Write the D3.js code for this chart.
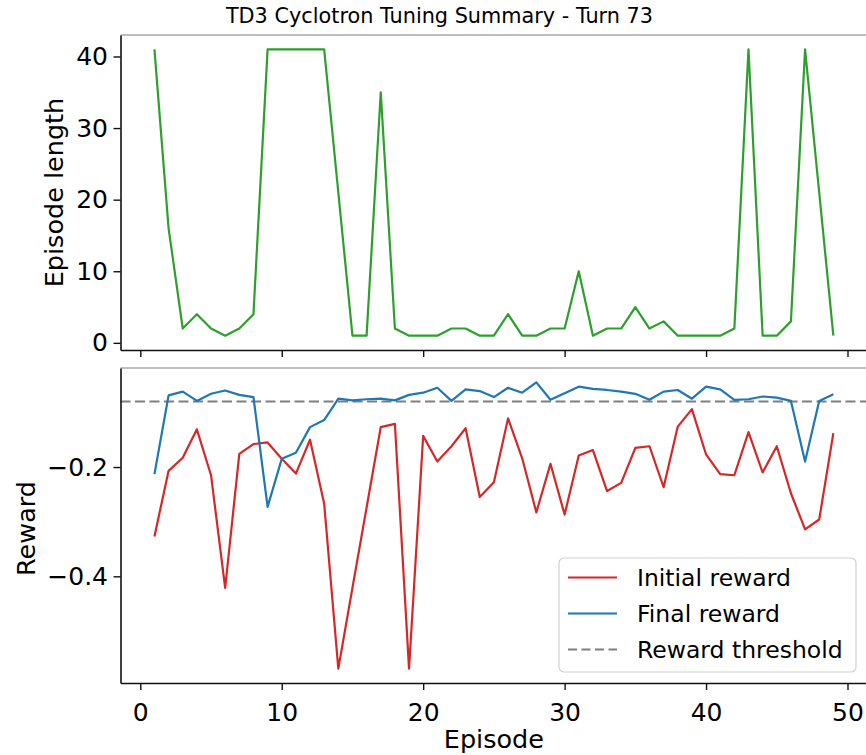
<!DOCTYPE html>
<html>
<head>
<meta charset="utf-8">
<script src="https://cdn.jsdelivr.net/npm/d3@7"></script>
<style>
  body { margin: 0; background: #fff; }
  text { font-family: "DejaVu Sans", sans-serif; fill: #000; }
</style>
</head>
<body>
<svg id="chart" width="866" height="755"></svg>
<script>
// DATA
const episodes = d3.range(1, 50);
const episodeLength = [41, 16, 2, 4, 2, 1, 2, 4, 41, 41, 41, 41, 41, 21, 1, 1, 35, 2, 1, 1,
  1, 2, 2, 1, 1, 4, 1, 1, 2, 2, 10, 1, 2, 2, 5, 2, 3, 1, 1, 1,
  1, 2, 41, 1, 1, 3, 41, 21, 1];
const initialReward = [-0.327, -0.207, -0.183, -0.131, -0.215, -0.421, -0.176, -0.158, -0.155, -0.185,
  -0.212, -0.150, -0.267, -0.569, -0.421, -0.274, -0.127, -0.121, -0.569, -0.143,
  -0.190, -0.162, -0.129, -0.255, -0.228, -0.111, -0.184, -0.283, -0.194, -0.287,
  -0.179, -0.169, -0.244, -0.229, -0.165, -0.162, -0.237, -0.126, -0.094, -0.177,
  -0.213, -0.215, -0.136, -0.210, -0.162, -0.248, -0.314, -0.296, -0.138];
const finalReward = [-0.213, -0.069, -0.062, -0.079, -0.066, -0.060, -0.068, -0.072, -0.273, -0.185,
  -0.174, -0.127, -0.114, -0.075, -0.078, -0.076, -0.075, -0.078, -0.068, -0.064,
  -0.055, -0.079, -0.058, -0.061, -0.072, -0.055, -0.064, -0.045, -0.077, -0.065,
  -0.053, -0.057, -0.059, -0.062, -0.066, -0.077, -0.062, -0.059, -0.075, -0.053,
  -0.058, -0.077, -0.076, -0.071, -0.073, -0.079, -0.190, -0.079, -0.067];
const rewardThreshold = -0.08;
const xTicks = [0, 10, 20, 30, 40, 50];
const lengthTicks = [0, 10, 20, 30, 40];
const rewardTicks = [-0.2, -0.4];
const legendItems = [
  { label: 'Initial reward', color: '#d62728', dash: null },
  { label: 'Final reward', color: '#1f77b4', dash: null },
  { label: 'Reward threshold', color: '#7f7f7f', dash: '4.5,3' }
];

// LAYOUT
const SVG = d3.select('#chart');
const LEFT = 120.5;
const RIGHT = 867.3;
const TOP_PANEL = { top: 35, bottom: 350 };
const BOTTOM_PANEL = { top: 368, bottom: 683 };
const TICK_FONT = 25;
const LABEL_FONT = 25.5;
const LINE_WIDTH = 2.2;

// matplotlib style 5% margins
function padded(extent) {
  const pad = (extent[1] - extent[0]) * 0.05;
  return [extent[0] - pad, extent[1] + pad];
}

const x = d3.scaleLinear()
  .domain(padded(d3.extent(episodes)))
  .range([LEFT, RIGHT]);

const yLength = d3.scaleLinear()
  .domain(padded(d3.extent(episodeLength)))
  .range([TOP_PANEL.bottom, TOP_PANEL.top]);

const yReward = d3.scaleLinear()
  .domain(padded(d3.extent(initialReward.concat(finalReward))))
  .range([BOTTOM_PANEL.bottom, BOTTOM_PANEL.top]);

const fmtMinus = d => d3.format('.1f')(d).replace('-', '\u2212');

// FUNCTIONS
function drawFrame(panel) {
  SVG.append('line')
    .attr('x1', LEFT).attr('x2', RIGHT)
    .attr('y1', panel.top).attr('y2', panel.top)
    .attr('stroke', '#a8a8a8').attr('stroke-width', 1.6);
  SVG.append('line')
    .attr('x1', RIGHT).attr('x2', RIGHT)
    .attr('y1', panel.top).attr('y2', panel.bottom)
    .attr('stroke', '#222').attr('stroke-width', 1.6);
}

function styleAxis(g) {
  g.select('.domain').attr('stroke', '#111').attr('stroke-width', 1.6);
  g.selectAll('.tick line').attr('stroke', '#111').attr('stroke-width', 1.4);
  g.selectAll('.tick text')
    .attr('fill', '#111')
    .style('font-family', '"DejaVu Sans", sans-serif')
    .style('font-size', `${TICK_FONT}px`);
}

function drawSeries(values, yScale, color) {
  const line = d3.line()
    .x((d, i) => x(episodes[i]))
    .y(d => yScale(d));

  SVG.append('path')
    .datum(values)
    .attr('d', line)
    .attr('fill', 'none')
    .attr('stroke', color)
    .attr('stroke-width', LINE_WIDTH)
    .attr('stroke-linejoin', 'round');
}

// TOP PANEL: episode length
drawFrame(TOP_PANEL);

SVG.append('g')
  .attr('transform', `translate(0,${TOP_PANEL.bottom})`)
  .call(d3.axisBottom(x).tickValues(xTicks).tickSize(7).tickFormat('').tickSizeOuter(0))
  .call(styleAxis);

SVG.append('g')
  .attr('transform', `translate(${LEFT},0)`)
  .call(d3.axisLeft(yLength).tickValues(lengthTicks).tickSize(7).tickPadding(5.5).tickSizeOuter(0))
  .call(styleAxis);

drawSeries(episodeLength, yLength, '#2ca02c');

SVG.append('text')
  .attr('transform', `translate(62.5,${(TOP_PANEL.top + TOP_PANEL.bottom) / 2}) rotate(-90)`)
  .attr('text-anchor', 'middle')
  .style('font-size', `${LABEL_FONT}px`)
  .text('Episode length');

// BOTTOM PANEL: rewards
drawFrame(BOTTOM_PANEL);

SVG.append('line')
  .attr('x1', LEFT).attr('x2', RIGHT)
  .attr('y1', yReward(rewardThreshold)).attr('y2', yReward(rewardThreshold))
  .attr('stroke', '#7f7f7f')
  .attr('stroke-width', 2)
  .attr('stroke-dasharray', '10,4.5');

drawSeries(initialReward, yReward, '#d62728');
drawSeries(finalReward, yReward, '#1f77b4');

SVG.append('g')
  .attr('transform', `translate(0,${BOTTOM_PANEL.bottom})`)
  .call(d3.axisBottom(x).tickValues(xTicks).tickSize(7).tickPadding(13).tickSizeOuter(0))
  .call(styleAxis);

SVG.append('g')
  .attr('transform', `translate(${LEFT},0)`)
  .call(d3.axisLeft(yReward).tickValues(rewardTicks).tickSize(7).tickPadding(5.5)
    .tickFormat(fmtMinus).tickSizeOuter(0))
  .call(styleAxis);

SVG.append('text')
  .attr('transform', `translate(35,${(BOTTOM_PANEL.top + BOTTOM_PANEL.bottom) / 2 + 3}) rotate(-90)`)
  .attr('text-anchor', 'middle')
  .style('font-size', `${LABEL_FONT}px`)
  .text('Reward');

SVG.append('text')
  .attr('x', (LEFT + RIGHT) / 2)
  .attr('y', 748)
  .attr('text-anchor', 'middle')
  .style('font-size', `${LABEL_FONT}px`)
  .text('Episode');

// legend
const legend = SVG.append('g').attr('transform', 'translate(559,558)');

legend.append('rect')
  .attr('width', 297)
  .attr('height', 114)
  .attr('rx', 5)
  .attr('fill', '#fff')
  .attr('fill-opacity', 0.8)
  .attr('stroke', '#d0d0d0')
  .attr('stroke-width', 1.2);

const rows = legend.selectAll('g.item')
  .data(legendItems)
  .join('g')
  .attr('class', 'item')
  .attr('transform', (d, i) => `translate(0,${19.5 + i * 36})`);

rows.append('line')
  .attr('x1', 9).attr('x2', 58)
  .attr('stroke', d => d.color)
  .attr('stroke-width', d => d.dash ? 2 : LINE_WIDTH)
  .attr('stroke-dasharray', d => d.dash ? '9,4.5' : null);

rows.append('text')
  .attr('x', 78)
  .attr('y', 8.5)
  .style('font-size', '23.5px')
  .text(d => d.label);

// title
SVG.append('text')
  .attr('x', 439.5)
  .attr('y', 22.5)
  .attr('text-anchor', 'middle')
  .style('font-size', '20.8px')
  .text('TD3 Cyclotron Tuning Summary - Turn 73');
</script>
</body>
</html>
